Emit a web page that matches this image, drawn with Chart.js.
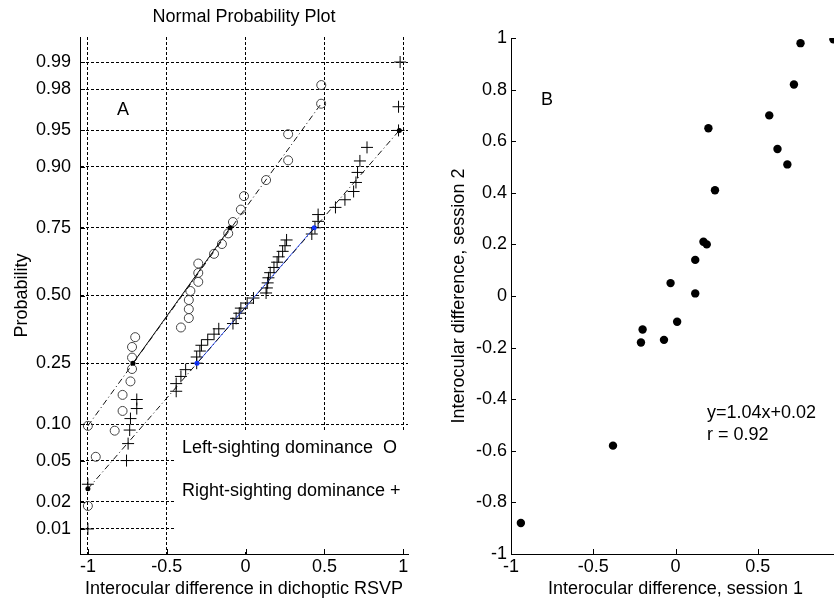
<!DOCTYPE html>
<html>
<head>
<meta charset="utf-8">
<script src="https://cdn.jsdelivr.net/npm/chart.js@4.4.1/dist/chart.umd.min.js"></script>
<style>
  html, body { margin: 0; padding: 0; background: #fff; }
  #wrap { position: relative; width: 834px; height: 600px; overflow: hidden; }
  #plotA { position: absolute; left: 0; top: 0; }
  #plotB { position: absolute; left: 420px; top: 0; }
</style>
</head>
<body>
<div id="wrap">
  <canvas id="plotA" width="420" height="600"></canvas>
  <canvas id="plotB" width="430" height="600"></canvas>
</div>
<script>
// panel A: normal probability plot
const probTicks = [0.01, 0.02, 0.05, 0.10, 0.25, 0.50, 0.75, 0.90, 0.95, 0.98, 0.99];
const probLabels = ['0.01', '0.02', '0.05', '0.10', '0.25', '0.50', '0.75', '0.90', '0.95', '0.98', '0.99'];
const xTicksA = [-1, -0.5, 0, 0.5, 1];
const xLabelsA = ['-1', '-0.5', '0', '0.5', '1'];

// left-sighting dominance (circles)
const leftX = [-1.00, -0.95, -0.83, -0.78, -0.78, -0.73, -0.72, -0.72, -0.72, -0.70,
               -0.41, -0.36, -0.36, -0.36, -0.35, -0.30, -0.30, -0.30, -0.20, -0.15,
               -0.11, -0.08, -0.03, -0.01, 0.13, 0.27, 0.27, 0.48];
const leftP = [0.018, 0.054, 0.089, 0.125, 0.161, 0.196, 0.232, 0.268, 0.304, 0.339,
               0.375, 0.411, 0.446, 0.482, 0.518, 0.554, 0.589, 0.625, 0.661, 0.696,
               0.732, 0.768, 0.804, 0.839, 0.875, 0.911, 0.946, 0.982];

// right-sighting dominance (pluses)
const rightX = [-1.00, -1.00, -0.755, -0.745, -0.735, -0.73, -0.69, -0.69, -0.44, -0.44,
                -0.41, -0.38, -0.31, -0.31, -0.29, -0.28, -0.24, -0.20, -0.17, -0.08,
                -0.06, -0.04, -0.03, 0.01, 0.05, 0.13, 0.135, 0.14, 0.145, 0.156,
                0.18, 0.20, 0.21, 0.235, 0.25, 0.26, 0.42, 0.44, 0.46, 0.46,
                0.57, 0.63, 0.685, 0.70, 0.71, 0.725, 0.77, 0.97, 0.97, 0.98];
const rightP = [0.01, 0.03, 0.05, 0.07, 0.09, 0.11, 0.13, 0.15, 0.17, 0.19,
                0.21, 0.23, 0.25, 0.27, 0.29, 0.31, 0.33, 0.35, 0.37, 0.39,
                0.41, 0.43, 0.45, 0.47, 0.49, 0.51, 0.53, 0.55, 0.57, 0.59,
                0.61, 0.63, 0.65, 0.67, 0.69, 0.71, 0.73, 0.75, 0.77, 0.79,
                0.81, 0.83, 0.85, 0.87, 0.89, 0.91, 0.93, 0.95, 0.97, 0.99];

// reference lines (quartile segment + dash-dot extension)
const leftFitX = [-0.714, -0.098];
const leftFitP = [0.25, 0.75];
const leftExtX = [-1.00, 0.479];
const leftExtP = [0.097, 0.972];
const rightFitX = [-0.308, 0.435];
const rightFitP = [0.25, 0.75];
const rightExtX = [-1.00, 0.975];
const rightExtP = [0.027, 0.95];

// panel B: session 1 vs session 2
const session1 = [0.76, 0.96, 0.72, 0.57, 0.62, 0.68, 0.20, 0.24, 0.17, 0.19,
                  0.12, -0.03, 0.12, 0.01, -0.20, -0.21, -0.07, -0.38, -0.94];
const session2 = [0.98, 0.995, 0.82, 0.70, 0.57, 0.51, 0.65, 0.41, 0.21, 0.20,
                  0.14, 0.05, 0.01, -0.10, -0.13, -0.18, -0.17, -0.58, -0.88];
const xTicksB = [-1, -0.5, 0, 0.5, 1];
const xLabelsB = ['-1', '-0.5', '0', '0.5', '1'];
const yTicksB = [-1, -0.8, -0.6, -0.4, -0.2, 0, 0.2, 0.4, 0.6, 0.8, 1];
const yLabelsB = ['-1', '-0.8', '-0.6', '-0.4', '-0.2', '0', '0.2', '0.4', '0.6', '0.8', '1'];

// inverse normal cdf (probability axis)
function probit(p) {
  const a = [-3.969683028665376e+01, 2.209460984245205e+02, -2.759285104469687e+02, 1.383577518672690e+02, -3.066479806614716e+01, 2.506628277459239e+00];
  const b = [-5.447609879822406e+01, 1.615858368580409e+02, -1.556989798598866e+02, 6.680131188771972e+01, -1.328068155288572e+01];
  const c = [-7.784894002430293e-03, -3.223964580411365e-01, -2.400758277161838e+00, -2.549732539343734e+00, 4.374664141464968e+00, 2.938163982698783e+00];
  const d = [7.784695709041462e-03, 3.224671290700398e-01, 2.445134137142996e+00, 3.754408661907416e+00];
  const pl = 0.02425;
  let q, r;
  if (p < pl) {
    q = Math.sqrt(-2 * Math.log(p));
    return (((((c[0]*q+c[1])*q+c[2])*q+c[3])*q+c[4])*q+c[5]) / ((((d[0]*q+d[1])*q+d[2])*q+d[3])*q+1);
  }
  if (p > 1 - pl) {
    q = Math.sqrt(-2 * Math.log(1 - p));
    return -(((((c[0]*q+c[1])*q+c[2])*q+c[3])*q+c[4])*q+c[5]) / ((((d[0]*q+d[1])*q+d[2])*q+d[3])*q+1);
  }
  q = p - 0.5; r = q * q;
  return (((((a[0]*r+a[1])*r+a[2])*r+a[3])*r+a[4])*r+a[5])*q / (((((b[0]*r+b[1])*r+b[2])*r+b[3])*r+b[4])*r+1);
}

const pts = (xs, ps) => xs.map((x, i) => ({x: x, y: probit(ps[i])}));

Chart.defaults.font.family = "'Liberation Sans', Arial, Helvetica, sans-serif";
Chart.defaults.font.size = 18;
Chart.defaults.color = '#000';

// MATLAB style tick marks pointing into the axes
const innerTicks = {
  id: 'innerTicks',
  afterDraw(chart) {
    const {ctx, chartArea: a, scales} = chart;
    ctx.save();
    ctx.strokeStyle = '#000';
    ctx.lineWidth = 1;
    ctx.beginPath();
    scales.x.ticks.forEach(t => {
      const px = Math.round(scales.x.getPixelForValue(t.value)) + 0.5;
      ctx.moveTo(px, a.bottom);
      ctx.lineTo(px, a.bottom - 5);
    });
    scales.y.ticks.forEach(t => {
      const py = Math.round(scales.y.getPixelForValue(t.value)) + 0.5;
      ctx.moveTo(a.left, py);
      ctx.lineTo(a.left + 5, py);
    });
    ctx.stroke();
    ctx.restore();
  }
};

// free text (panel letters, legend text, fit equation)
const notes = {
  id: 'notes',
  beforeDatasetsDraw(chart, args, opts) {
    const ctx = chart.ctx;
    ctx.save();
    if (opts.box) {
      ctx.fillStyle = '#fff';
      ctx.fillRect(opts.box[0], opts.box[1], opts.box[2], opts.box[3]);
    }
    ctx.fillStyle = '#000';
    ctx.font = "18px 'Liberation Sans', Arial, sans-serif";
    ctx.textBaseline = 'middle';
    (opts.items || []).forEach(it => {
      ctx.textAlign = it.align || 'left';
      ctx.fillText(it.text, it.x, it.y);
    });
    ctx.restore();
  }
};

const dashDot = [6, 3, 1, 3];

new Chart(document.getElementById('plotA').getContext('2d'), {
  type: 'scatter',
  data: {
    datasets: [
      {
        label: 'right ext',
        data: pts(rightExtX, rightExtP),
        showLine: true,
        borderColor: '#111',
        borderWidth: 1,
        borderDash: dashDot,
        pointRadius: 2.5,
        pointBackgroundColor: '#000',
        pointBorderWidth: 0,
        order: 1
      },
      {
        label: 'left ext',
        data: pts(leftExtX, leftExtP),
        showLine: true,
        borderColor: '#111',
        borderWidth: 1,
        borderDash: dashDot,
        pointStyle: 'circle',
        pointRadius: 4.5,
        pointBackgroundColor: 'rgba(0,0,0,0)',
        pointBorderColor: '#444',
        pointBorderWidth: 1,
        order: 2
      },
      {
        label: 'right fit',
        data: pts(rightFitX, rightFitP),
        showLine: true,
        borderColor: '#3355ff',
        borderWidth: 1,
        pointRadius: 2.5,
        pointBackgroundColor: '#1133ff',
        pointBorderWidth: 0,
        order: 3
      },
      {
        label: 'left fit',
        data: pts(leftFitX, leftFitP),
        showLine: true,
        borderColor: '#000',
        borderWidth: 1,
        pointRadius: 2.5,
        pointBackgroundColor: '#000',
        pointBorderWidth: 0,
        order: 4
      },
      {
        label: 'Right-sighting dominance',
        data: pts(rightX, rightP),
        pointStyle: 'cross',
        pointRadius: 6,
        pointBorderColor: '#000',
        pointBorderWidth: 1,
        order: 5
      },
      {
        label: 'Left-sighting dominance',
        data: pts(leftX, leftP),
        pointStyle: 'circle',
        pointRadius: 4.5,
        pointBackgroundColor: 'rgba(0,0,0,0)',
        pointBorderColor: '#444',
        pointBorderWidth: 1,
        order: 6
      }
    ]
  },
  options: {
    animation: false,
    responsive: false,
    events: [],
    layout: {padding: {left: 0, right: 12, top: 0, bottom: 0}},
    plugins: {
      legend: {display: false},
      tooltip: {enabled: false},
      title: {
        display: true,
        text: 'Normal Probability Plot',
        fullSize: false,
        color: '#000',
        font: {size: 18, weight: 'normal'},
        padding: {top: 6, bottom: 9.4}
      },
      notes: {
        box: [175, 432, 240, 120],
        items: [
          {text: 'A', x: 123, y: 110, align: 'center'},
          {text: 'Left-sighting dominance  O', x: 182, y: 448},
          {text: 'Right-sighting dominance +', x: 182, y: 491}
        ]
      }
    },
    scales: {
      x: {
        type: 'linear',
        min: -1.05,
        max: 1.03,
        afterBuildTicks: s => { s.ticks = xTicksA.map(v => ({value: v})); },
        afterFit: s => { s.height = 46; s.paddingLeft = 0; s.paddingRight = 0; },
        ticks: {padding: 2, autoSkip: false, maxRotation: 0, callback: (v, i) => xLabelsA[i]},
        grid: {color: '#000', lineWidth: 1, drawTicks: false},
        border: {color: '#000', width: 1, dash: [3, 2]},
        title: {display: true, text: 'Interocular difference in dichoptic RSVP', padding: {top: 0, bottom: 0}}
      },
      y: {
        type: 'linear',
        min: probit(0.005),
        max: probit(0.995),
        afterBuildTicks: s => { s.ticks = probTicks.map(p => ({value: probit(p)})); },
        afterFit: s => { s.width = 80; s.paddingTop = 0; s.paddingBottom = 0; },
        ticks: {padding: 9, autoSkip: false, callback: (v, i) => probLabels[i]},
        grid: {color: '#000', lineWidth: 1, drawTicks: false},
        border: {color: '#000', width: 1, dash: [3, 2]},
        title: {display: true, text: 'Probability', padding: {top: 11, bottom: 0}}
      }
    }
  },
  plugins: [notes, innerTicks]
});

new Chart(document.getElementById('plotB').getContext('2d'), {
  type: 'scatter',
  data: {
    datasets: [{
      label: 'session 1 vs session 2',
      data: session1.map((x, i) => ({x: x, y: session2[i]})),
      pointRadius: 4.2,
      pointBackgroundColor: '#000',
      pointBorderWidth: 0
    }]
  },
  options: {
    animation: false,
    responsive: false,
    events: [],
    layout: {padding: {left: 0, right: 10, top: 38, bottom: 0}},
    plugins: {
      legend: {display: false},
      tooltip: {enabled: false},
      notes: {
        items: [
          {text: 'B', x: 127, y: 100, align: 'center'},
          {text: 'y=1.04x+0.02', x: 287, y: 413},
          {text: 'r = 0.92', x: 287, y: 435}
        ]
      }
    },
    scales: {
      x: {
        type: 'linear',
        min: -1,
        max: 1,
        afterBuildTicks: s => { s.ticks = xTicksB.map(v => ({value: v})); },
        afterFit: s => { s.height = 46; s.paddingLeft = 0; s.paddingRight = 0; },
        ticks: {padding: 2, autoSkip: false, maxRotation: 0, callback: (v, i) => xLabelsB[i]},
        grid: {display: false, drawTicks: false},
        border: {color: '#000', width: 1},
        title: {display: true, text: 'Interocular difference, session 1', padding: {top: 0, bottom: 0}}
      },
      y: {
        type: 'linear',
        min: -1,
        max: 1,
        afterBuildTicks: s => { s.ticks = yTicksB.map(v => ({value: v})); },
        afterFit: s => { s.width = 91; s.paddingTop = 0; s.paddingBottom = 0; },
        ticks: {padding: 4, autoSkip: false, callback: (v, i) => yLabelsB[i]},
        grid: {display: false, drawTicks: false},
        border: {color: '#000', width: 1},
        title: {display: true, text: 'Interocular difference, session 2', padding: {top: 28, bottom: 0}}
      }
    }
  },
  plugins: [notes, innerTicks]
});
</script>
</body>
</html>
